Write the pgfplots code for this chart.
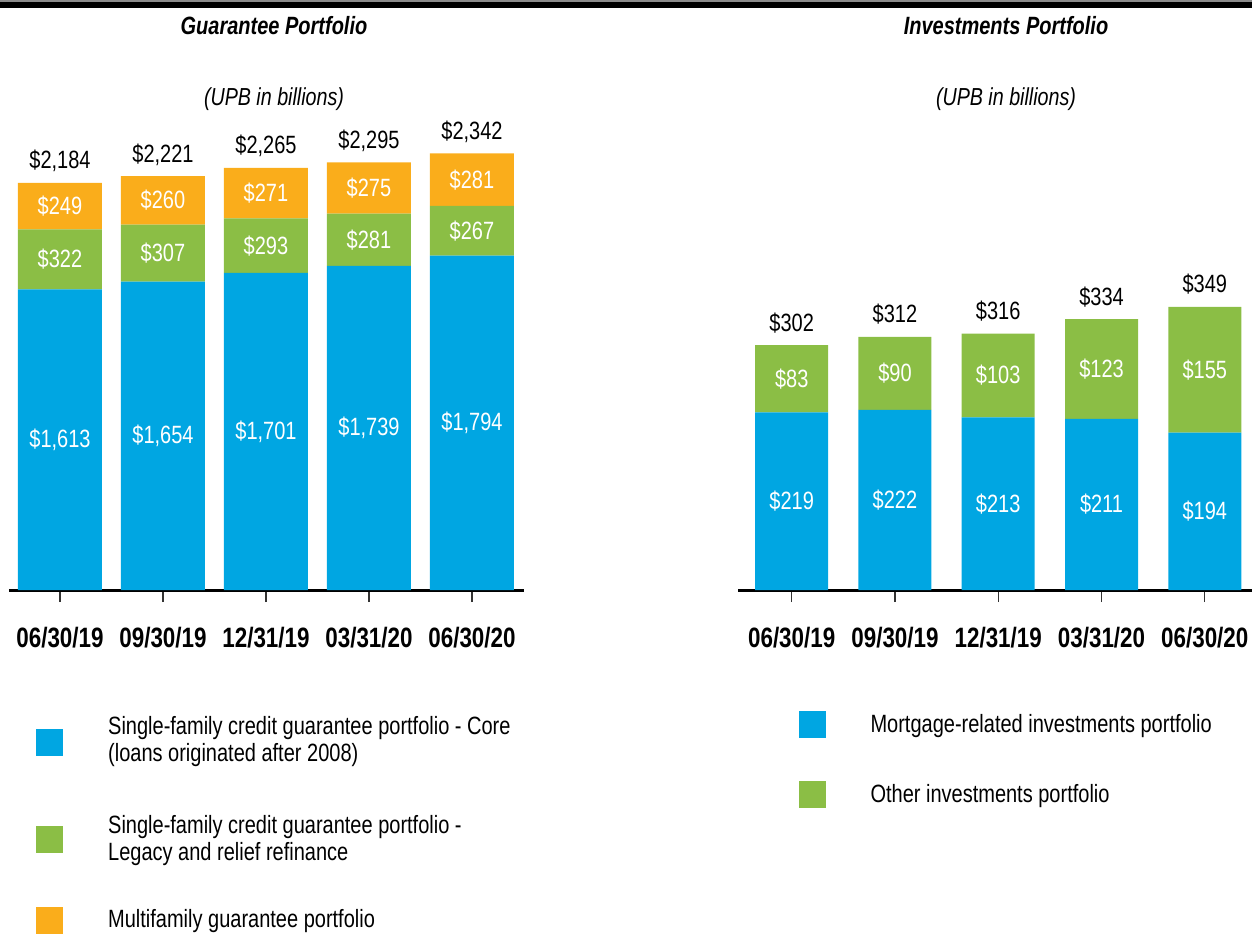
\documentclass[border=0pt]{standalone}
\usepackage{pgfplots}
\pgfplotsset{compat=1.18}
\usepackage{pgfplotstable}
\usepackage{fontspec}
\setmainfont{Liberation Sans}[FakeStretch=0.8]
\definecolor{fmblue}{RGB}{0,166,226}
\definecolor{fmgreen}{RGB}{139,190,69}
\definecolor{fmorange}{RGB}{250,173,27}

\pgfplotstableread{
x core legacy multi total
0 1613 322 249 2184
1 1654 307 260 2221
2 1701 293 271 2265
3 1739 281 275 2295
4 1794 267 281 2342
}\guar
\pgfplotstableread{
x mort other total
0 219 83 302
1 222 90 312
2 213 103 316
3 211 123 334
4 194 155 349
}\inv

\pgfplotsset{
 fmaxis/.style={
  scale only axis, ybar stacked, ymin=0, enlarge x limits=false,
  axis y line=none, axis x line*=bottom,
  x axis line style={-, line width=1.5pt},
  xtick={0,...,4}, xticklabels={06/30/19,09/30/19,12/31/19,03/31/20,06/30/20},
  tick align=outside, major tick length=6pt,
  xtick style={line width=0.6pt, black!80},
  xticklabel style={font=\fontsize{14}{16}\selectfont\bfseries, yshift=-9pt},
  point meta=explicit,
  nodes near coords={\color{white}\$\pgfmathprintnumber{\pgfplotspointmeta}},
  /pgf/number format/assume math mode=true,
  /pgf/number format/1000 sep={,},
  every node near coord/.append style={font=\fontsize{12.5}{14}\selectfont, anchor=center},
  legend style={draw=none, fill=none, inner sep=0pt, column sep=22.5pt,
     nodes={align=left, inner sep=0pt, font=\fontsize{12.5}{13.5}\selectfont}},
  legend cell align=left,
  clip=false,
 },
 totaxis/.style={
  scale only axis, hide axis, ymin=0, clip=false,
  point meta=explicit,
  nodes near coords={\$\pgfmathprintnumber{\pgfplotspointmeta}},
  /pgf/number format/assume math mode=true,
  /pgf/number format/1000 sep={,},
  every node near coord/.append style={font=\fontsize{12.5}{14}\selectfont, color=black, anchor=base, inner sep=0pt, yshift=7pt},
 },
 sq/.style={legend image code/.code={\fill[##1] (0pt,-6.75pt) rectangle (13.5pt,6.75pt);}},
 squp/.style={legend image code/.code={\fill[##1] (0pt,-5.75pt) rectangle (13.5pt,7.75pt);}},
}

\begin{document}
\begin{tikzpicture}
\useasboundingbox (0,0) rectangle (626pt,466.5pt);
\clip (0,0) rectangle (626pt,466.5pt);
\fill[black!45] (0,466.5pt) rectangle (626pt,465.5pt);
\fill[black] (0,465.5pt) rectangle (626pt,462.5pt);
\node[font=\fontsize{12.5}{15}\selectfont\bfseries\itshape] at (137pt,453.5pt) {Guarantee Portfolio};
\node[font=\fontsize{12.5}{15}\selectfont\bfseries\itshape] at (503pt,453.5pt) {Investments Portfolio};
\node[font=\fontsize{12.3}{15}\selectfont\itshape] at (137pt,417pt) {(UPB in billions)};
\node[font=\fontsize{12.3}{15}\selectfont\itshape] at (503pt,417pt) {(UPB in billions)};

\begin{axis}[fmaxis, at={(4.5pt,171.5pt)}, anchor=south west,
  width=257.5pt, height=242.3pt, xmin=-0.495, xmax=4.505, ymax=2600,
  bar width=42pt,
  legend style={at={(0.052,-0.26)}, anchor=north west, row sep=21.5pt}]
\addplot[fill=fmblue, draw=none, squp] table[x=x, y=core, meta=core] {\guar};
\addlegendentry[text depth=5.6pt]{Single-family credit guarantee portfolio - Core\\(loans originated after 2008)}
\addplot[fill=fmgreen, draw=none, sq] table[x=x, y=legacy, meta=legacy] {\guar};
\addlegendentry{Single-family credit guarantee portfolio -\\Legacy and relief refinance}
\addplot[fill=fmorange, draw=none, sq] table[x=x, y=multi, meta=multi] {\guar};
\addlegendentry{Multifamily guarantee portfolio}
\end{axis}
\begin{axis}[totaxis, at={(4.5pt,171.5pt)}, anchor=south west,
  width=257.5pt, height=242.3pt, xmin=-0.495, xmax=4.505, ymax=2600]
\addplot[only marks, mark=none] table[x=x, y=total, meta=total] {\guar};
\end{axis}

\begin{axis}[fmaxis, at={(369pt,171.5pt)}, anchor=south west,
  width=259.2pt, height=162.2pt, xmin=-0.52, xmax=4.5, ymax=400,
  bar width=36.5pt,
  legend style={at={(0.116,-0.373)}, anchor=north west, row sep=21.5pt}]
\addplot[fill=fmblue, draw=none, sq] table[x=x, y=mort, meta=mort] {\inv};
\addlegendentry{Mortgage-related investments portfolio}
\addplot[fill=fmgreen, draw=none, sq] table[x=x, y=other, meta=other] {\inv};
\addlegendentry{Other investments portfolio}
\end{axis}
\begin{axis}[totaxis, at={(369pt,171.5pt)}, anchor=south west,
  width=259.2pt, height=162.2pt, xmin=-0.52, xmax=4.5, ymax=400]
\addplot[only marks, mark=none] table[x=x, y=total, meta=total] {\inv};
\end{axis}
\end{tikzpicture}
\end{document}
